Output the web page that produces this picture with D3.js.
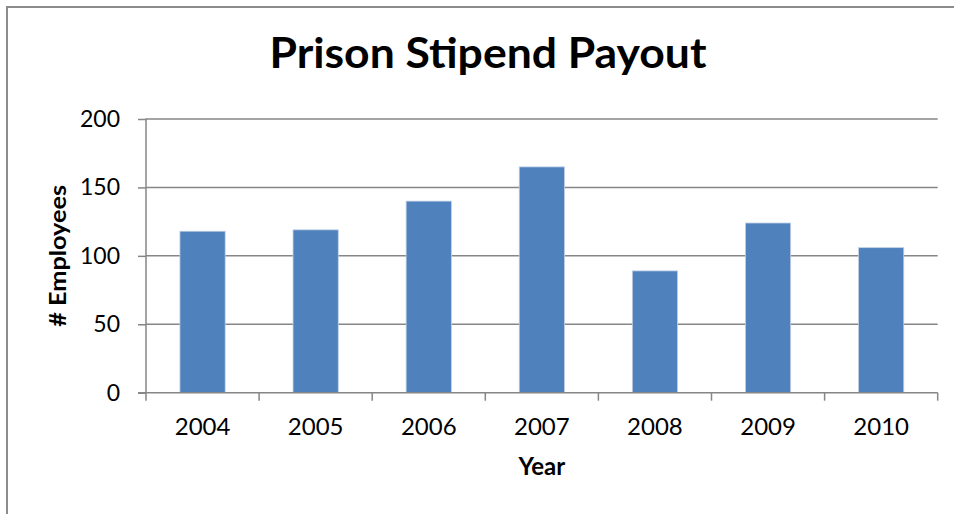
<!DOCTYPE html>
<html>
<head>
<meta charset="utf-8">
<script src="https://cdn.jsdelivr.net/npm/d3@7"></script>
<style>
  html, body { margin: 0; padding: 0; background: #fff; }
  svg { display: block; }
  text { font-family: Lato, "Open Sans", "Noto Sans", sans-serif; fill: #000; }
</style>
</head>
<body>
<script>
const categories = ["2004", "2005", "2006", "2007", "2008", "2009", "2010"];
const employees = [118, 119, 140, 165, 89, 124, 106];
const yTicks = [0, 50, 100, 150, 200];
const title = "Prison Stipend Payout";
const xTitle = "Year";
const yTitle = "# Employees";

const W = 954, H = 514;
const plot = { left: 146, right: 937.7, top: 119, bottom: 392.7 };

const svg = d3.select("body").append("svg").attr("width", W).attr("height", H);

// outer chart border (left + top visible)
svg.append("path")
  .attr("d", `M7,${H + 5} L7,7 L${W + 5},7`)
  .attr("fill", "none").attr("stroke", "#8c8c8c").attr("stroke-width", 2);

const x = d3.scaleBand().domain(categories)
  .range([plot.left, plot.right]).paddingInner(0.6).paddingOuter(0.3);
const y = d3.scaleLinear().domain([0, 200]).range([plot.bottom, plot.top]);

// gridlines
svg.append("g").selectAll("line").data(yTicks.filter(d => d > 0)).join("line")
  .attr("x1", plot.left).attr("x2", plot.right)
  .attr("y1", d => y(d)).attr("y2", d => y(d))
  .attr("stroke", "#868686").attr("stroke-width", 1.5);

// bars
svg.append("g").selectAll("rect").data(categories).join("rect")
  .attr("x", d => x(d))
  .attr("y", (d, i) => y(employees[i]))
  .attr("width", x.bandwidth())
  .attr("height", (d, i) => y(0) - y(employees[i]))
  .attr("fill", "#4f81bd")
  .attr("stroke", "#c0d0e6").attr("stroke-width", 0.8);

// y axis
const yAxis = d3.axisLeft(y).tickValues(yTicks).tickSize(8).tickPadding(18);
const gy = svg.append("g").attr("transform", `translate(${plot.left},0)`).call(yAxis);
gy.select(".domain").attr("stroke", "#868686").attr("stroke-width", 1.5).attr("d", `M0,${plot.top - 0.5}V${plot.bottom}`);
gy.selectAll(".tick line").attr("stroke", "#868686").attr("stroke-width", 1.5);
gy.selectAll(".tick text").attr("font-size", 23).attr("font-family", "Lato, sans-serif").attr("fill", "#000");

// x axis with boundary ticks (Excel style)
const xAxis = d3.axisBottom(x).tickSize(0).tickPadding(25);
const gx = svg.append("g").attr("transform", `translate(0,${plot.bottom})`).call(xAxis);
gx.select(".domain").attr("stroke", "#868686").attr("stroke-width", 1.5).attr("d", `M${plot.left - 8},0H${plot.right}`);
gx.selectAll(".tick text").attr("font-size", 24).attr("font-family", "Lato, sans-serif").attr("fill", "#000");
const step = x.step();
const bounds = d3.range(categories.length + 1).map(i => x(categories[0]) - x.step() * x.paddingOuter() + i * step);
gx.append("g").selectAll("line").data(bounds).join("line")
  .attr("x1", d => d).attr("x2", d => d).attr("y1", 0).attr("y2", 8)
  .attr("stroke", "#868686").attr("stroke-width", 1.5);

// title
svg.append("text")
  .attr("x", 488).attr("y", 68)
  .attr("text-anchor", "middle")
  .attr("font-size", 42).attr("font-weight", "bold")
  .attr("textLength", 437).attr("lengthAdjust", "spacingAndGlyphs")
  .text(title);

// x title
svg.append("text")
  .attr("x", (plot.left + plot.right) / 2).attr("y", 475)
  .attr("text-anchor", "middle").attr("font-size", 24).attr("font-weight", "bold")
  .text(xTitle);

// y title
svg.append("text")
  .attr("transform", `translate(66,${(plot.top + plot.bottom) / 2}) rotate(-90)`)
  .attr("text-anchor", "middle").attr("font-size", 23).attr("font-weight", "bold")
  .attr("textLength", 142).attr("lengthAdjust", "spacingAndGlyphs")
  .text(yTitle);
</script>
</body>
</html>
